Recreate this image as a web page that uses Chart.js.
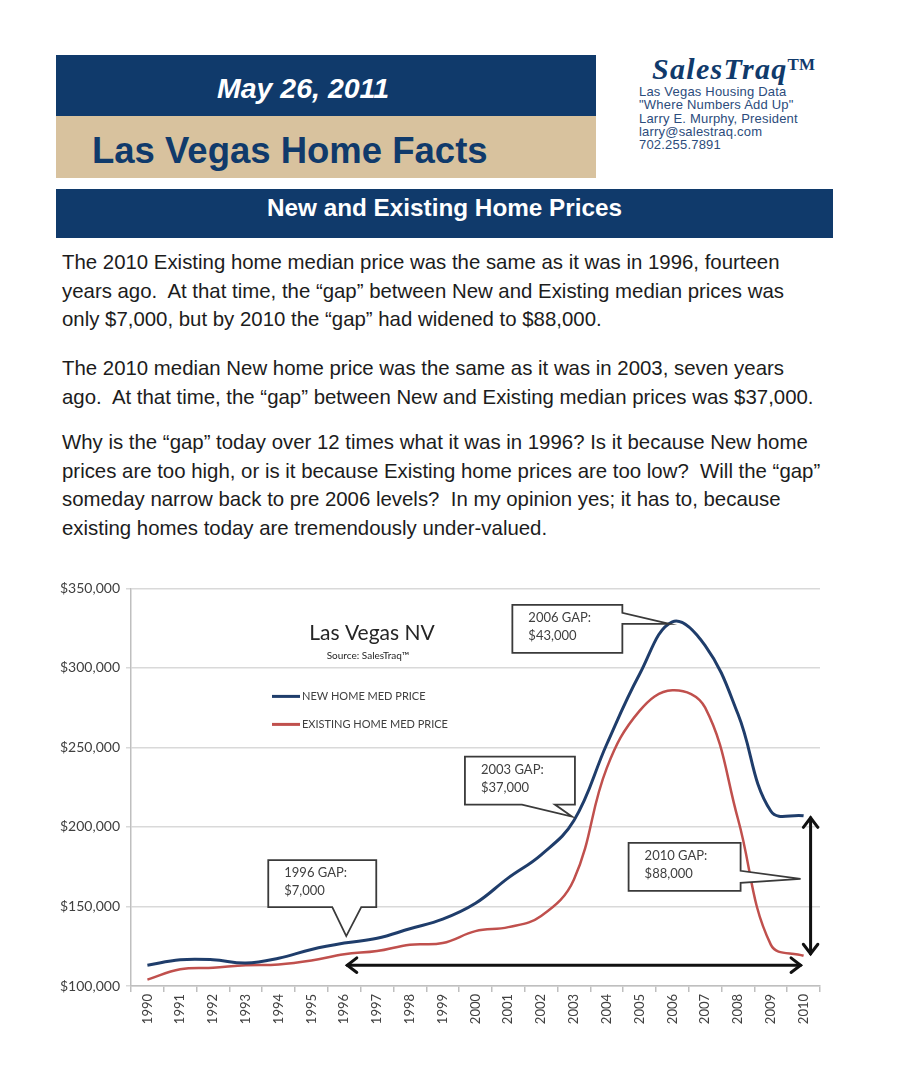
<!DOCTYPE html>
<html>
<head>
<meta charset="utf-8">
<title>Las Vegas Home Facts</title>
<script src="https://cdn.jsdelivr.net/npm/chart.js@4.4.0/dist/chart.umd.min.js"></script>
<style>
  body { margin: 0; width: 902px; height: 1080px; position: relative; overflow: hidden; background: #fff;
         font-family: "Liberation Sans", Arial, sans-serif; }
  .abs { position: absolute; white-space: pre; }
  .navy { background: #103a6b; }
  .para { position: absolute; left: 62px; font-size: 20.4px; line-height: 28.5px; color: #1c1c1c; white-space: pre; }
  .info { position: absolute; left: 639px; top: 85px; font-size: 13px; line-height: 13.3px; color: #2c4c7c; letter-spacing: 0.2px; white-space: pre; }
  #chartBox { position: absolute; left: 40px; top: 574px; width: 790px; height: 470px; }
</style>
</head>
<body>
  <!-- header -->
  <div class="abs navy" style="left:56px;top:55px;width:540px;height:61px"></div>
  <div class="abs" style="left:56px;top:116px;width:540px;height:62px;background:#d8c29e"></div>
  <div class="abs" style="left:217px;top:74px;font-size:28.5px;line-height:28px;font-weight:bold;font-style:italic;color:#fff">May 26, 2011</div>
  <div class="abs" style="left:92px;top:133px;font-size:36.5px;line-height:36px;font-weight:bold;color:#103a6b">Las Vegas Home Facts</div>

  <div class="abs" style="left:652px;top:50px;font-family:'Liberation Serif',serif;font-size:30px;line-height:30px;font-weight:bold;font-style:italic;color:#103a6b;letter-spacing:1.3px">SalesTraq<span style="font-size:17px;font-style:normal;vertical-align:9px;letter-spacing:0">TM</span></div>
  <div class="info">Las Vegas Housing Data
"Where Numbers Add Up"
Larry E. Murphy, President
larry@salestraq.com
702.255.7891</div>

  <div class="abs navy" style="left:56px;top:189px;width:777px;height:49px"></div>
  <div class="abs" style="left:56px;top:196px;width:777px;text-align:center;font-size:24.3px;line-height:24px;font-weight:bold;color:#fff">New and Existing Home Prices</div>

  <!-- text -->
  <div class="para" style="top:248px">The 2010 Existing home median price was the same as it was in 1996, fourteen
years ago.  At that time, the “gap” between New and Existing median prices was
only $7,000, but by 2010 the “gap” had widened to $88,000.</div>
  <div class="para" style="top:354px">The 2010 median New home price was the same as it was in 2003, seven years
ago.  At that time, the “gap” between New and Existing median prices was $37,000.</div>
  <div class="para" style="top:428px">Why is the “gap” today over 12 times what it was in 1996? Is it because New home
prices are too high, or is it because Existing home prices are too low?  Will the “gap”
someday narrow back to pre 2006 levels?  In my opinion yes; it has to, because
existing homes today are tremendously under-valued.</div>

  <div id="chartBox"><canvas id="priceChart"></canvas></div>

<script>
// data
const years = ['1990', '1991', '1992', '1993', '1994', '1995', '1996', '1997', '1998', '1999', '2000',
               '2001', '2002', '2003', '2004', '2005', '2006', '2007', '2008', '2009', '2010'];
const newHomePrices = [113000, 116500, 116500, 114500, 117500, 123000, 127000, 130000, 136000, 142000, 152000,
                       168000, 182500, 204000, 252000, 296000, 329000, 314000, 271000, 210000, 207000];
const existingHomePrices = [104000, 110500, 111500, 113000, 113500, 116000, 120000, 122000, 126000, 127000, 134500,
                            137000, 144000, 167000, 237000, 273000, 286000, 275000, 205000, 126000, 119000];
const seriesLabels = ['NEW HOME MED PRICE', 'EXISTING HOME MED PRICE'];
const seriesColors = ['#1f3d6b', '#c0504d'];
const yTickValues = [100000, 150000, 200000, 250000, 300000, 350000];
const gapNotes = [
  { year: '1996', lines: ['1996 GAP:', '$7,000'] },
  { year: '2003', lines: ['2003 GAP:', '$37,000'] },
  { year: '2006', lines: ['2006 GAP:', '$43,000'] },
  { year: '2010', lines: ['2010 GAP:', '$88,000'] }
];

const FONT = 'Lato, "Open Sans", sans-serif';

function arrowHead(ctx, x, y, ang) {
  const len = 12, spread = 0.65;
  ctx.beginPath();
  ctx.moveTo(x - len * Math.cos(ang - spread), y - len * Math.sin(ang - spread));
  ctx.lineTo(x, y);
  ctx.lineTo(x - len * Math.cos(ang + spread), y - len * Math.sin(ang + spread));
  ctx.stroke();
}

function doubleArrow(ctx, x1, y1, x2, y2) {
  const ang = Math.atan2(y2 - y1, x2 - x1);
  ctx.save();
  ctx.strokeStyle = '#111';
  ctx.lineWidth = 3;
  ctx.lineCap = 'round';
  ctx.beginPath();
  ctx.moveTo(x1, y1);
  ctx.lineTo(x2, y2);
  ctx.stroke();
  arrowHead(ctx, x2, y2, ang);
  arrowHead(ctx, x1, y1, ang + Math.PI);
  ctx.restore();
}

// box with a pointer on the bottom or right side
function callout(ctx, box, tip, side, b1, b2, lines) {
  ctx.save();
  ctx.beginPath();
  ctx.moveTo(box.l, box.t);
  ctx.lineTo(box.r, box.t);
  if (side === 'right') { ctx.lineTo(box.r, b1); ctx.lineTo(tip.x, tip.y); ctx.lineTo(box.r, b2); }
  ctx.lineTo(box.r, box.b);
  if (side === 'bottom') { ctx.lineTo(b1, box.b); ctx.lineTo(tip.x, tip.y); ctx.lineTo(b2, box.b); }
  ctx.lineTo(box.l, box.b);
  ctx.closePath();
  ctx.fillStyle = '#fff';
  ctx.fill();
  ctx.strokeStyle = '#3a3a3a';
  ctx.lineWidth = 1.8;
  ctx.stroke();
  ctx.fillStyle = '#404040';
  ctx.font = '13px ' + FONT;
  ctx.textAlign = 'left';
  ctx.textBaseline = 'middle';
  ctx.fillText(lines[0], box.l + 16, box.t + 13);
  ctx.fillText(lines[1], box.l + 16, box.t + 31);
  ctx.restore();
}

const overlay = {
  id: 'overlay',
  afterDatasetsDraw(chart) {
    const { ctx, chartArea: a, scales: { x, y } } = chart;
    const px = yr => x.getPixelForValue(years.indexOf(yr));
    const pNew = yr => y.getPixelForValue(newHomePrices[years.indexOf(yr)]);
    const pOld = yr => y.getPixelForValue(existingHomePrices[years.indexOf(yr)]);

    // title
    ctx.save();
    ctx.fillStyle = '#262626';
    ctx.textAlign = 'center';
    ctx.textBaseline = 'middle';
    ctx.font = '21px ' + FONT;
    ctx.fillText('Las Vegas NV', a.left + 241, a.top + 45);
    ctx.font = '10px ' + FONT;
    ctx.fillText('Source: SalesTraq™', a.left + 237, a.top + 67);

    // legend
    ctx.textAlign = 'left';
    ctx.font = '11px ' + FONT;
    seriesLabels.forEach((lab, i) => {
      const ly = a.top + 108 + i * 28;
      ctx.strokeStyle = seriesColors[i];
      ctx.lineWidth = 3;
      ctx.beginPath();
      ctx.moveTo(a.left + 141, ly);
      ctx.lineTo(a.left + 169, ly);
      ctx.stroke();
      ctx.fillStyle = '#404040';
      ctx.fillText(lab, a.left + 171, ly);
    });
    ctx.restore();

    // arrows for the 1996 -> 2010 comparison and the 2010 gap
    const yArrow = pOld('1996') + 11;
    doubleArrow(ctx, px('1996') + 3, yArrow, px('2010') - 3, yArrow);
    doubleArrow(ctx, px('2010') + 7, pNew('2010') + 2, px('2010') + 7, pOld('2010') - 2);

    // callouts
    gapNotes.forEach(n => {
      const yr = n.year;
      let tip, box;
      if (yr === '1996') {
        tip = { x: px(yr) + 2, y: pNew(yr) - 7 };
        box = { l: tip.x - 78, r: tip.x + 30, t: tip.y - 76, b: tip.y - 29 };
        callout(ctx, box, tip, 'bottom', tip.x + 15, tip.x - 14, n.lines);
      } else if (yr === '2003') {
        tip = { x: px(yr) - 2, y: pNew(yr) - 4 };
        box = { l: tip.x - 107, r: tip.x + 3, t: tip.y - 60, b: tip.y - 12 };
        callout(ctx, box, tip, 'bottom', tip.x - 17, tip.x - 50, n.lines);
      } else if (yr === '2006') {
        tip = { x: px(yr) - 3, y: pNew(yr) + 2 };
        box = { l: tip.x - 157, r: tip.x - 47, t: tip.y - 19, b: tip.y + 29 };
        callout(ctx, box, tip, 'right', tip.y - 11, tip.y, n.lines);
      } else {
        tip = { x: px(yr) - 3, y: (pNew(yr) + pOld(yr)) / 2 - 7 };
        box = { l: tip.x - 172, r: tip.x - 60, t: tip.y - 36, b: tip.y + 12 };
        callout(ctx, box, tip, 'right', tip.y - 8, tip.y + 4, n.lines);
      }
    });
  }
};

new Chart(document.getElementById('priceChart'), {
  type: 'line',
  data: {
    labels: years,
    datasets: [
      { label: seriesLabels[0], data: newHomePrices, borderColor: seriesColors[0], borderWidth: 3,
        pointRadius: 0, tension: 0.4, fill: false },
      { label: seriesLabels[1], data: existingHomePrices, borderColor: seriesColors[1], borderWidth: 2.5,
        pointRadius: 0, tension: 0.4, fill: false }
    ]
  },
  options: {
    responsive: true,
    maintainAspectRatio: false,
    animation: false,
    layout: { padding: { left: 0, right: 10, top: 10, bottom: 0 } },
    plugins: { legend: { display: false }, title: { display: false }, tooltip: { enabled: false } },
    scales: {
      x: {
        offset: true,
        afterFit: s => { s.height = 58; },
        grid: { drawOnChartArea: false, offset: true, tickLength: 6, color: '#bfbfbf', lineWidth: 1.5 },
        border: { color: '#bfbfbf', width: 1.5 },
        ticks: { minRotation: 90, maxRotation: 90, padding: 2, color: '#404040', font: { family: FONT, size: 13 } }
      },
      y: {
        min: 100000,
        max: 350000,
        afterFit: s => { s.width = 91; },
        afterBuildTicks: s => { s.ticks = yTickValues.map(v => ({ value: v })); },
        grid: { color: '#d9d9d9', lineWidth: 1.5, tickLength: 5 },
        border: { color: '#bfbfbf', width: 1.5 },
        ticks: { padding: 6, color: '#404040', font: { family: FONT, size: 14 },
                 callback: v => '$' + v.toLocaleString('en-US') }
      }
    }
  },
  plugins: [overlay]
});
</script>
</body>
</html>
